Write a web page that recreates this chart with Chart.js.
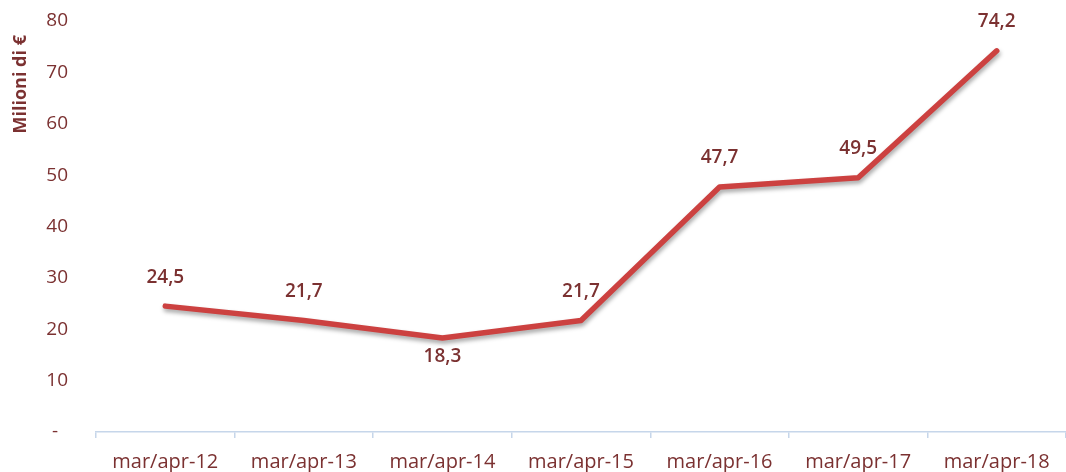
<!DOCTYPE html>
<html><head><meta charset="utf-8">
<script src="https://cdn.jsdelivr.net/npm/chart.js@4/dist/chart.umd.min.js"></script>
<style>html,body{margin:0;padding:0;background:#fff;}#wrap{width:1066px;height:472px;}</style>
</head><body><div id="wrap"><canvas id="c" width="1066" height="472"></canvas></div>
<script>
const categories = ["mar/apr-12","mar/apr-13","mar/apr-14","mar/apr-15","mar/apr-16","mar/apr-17","mar/apr-18"];
const values = [24.5, 21.7, 18.3, 21.7, 47.7, 49.5, 74.2];
const labelBelow = [false, false, true, false, false, false, false];
const yTicks = [0,10,20,30,40,50,60,70,80];
const txt = '#7b3131';

const shadowPlugin = {
  id:'shadow',
  beforeDatasetDraw(chart){ const c=chart.ctx; c.save(); c.shadowColor='rgba(0,0,0,0.35)'; c.shadowBlur=4; c.shadowOffsetX=1; c.shadowOffsetY=3; },
  afterDatasetDraw(chart){ chart.ctx.restore(); }
};
const labelPlugin = {
  id:'vals',
  afterDatasetsDraw(chart){
    const c=chart.ctx; const meta=chart.getDatasetMeta(0);
    c.save(); c.font='600 19px "Open Sans"'; c.fillStyle=txt; c.textAlign='center'; c.textBaseline='middle';
    meta.data.forEach((p,i)=>{
      const y = labelBelow[i] ? p.y+19 : p.y-29;
      c.fillText(values[i].toFixed(1).replace('.',','), p.x, y);
    });
    c.restore();
  }
};
new Chart(document.getElementById('c'),{
  type:'line',
  data:{labels:categories,datasets:[{data:values,borderColor:'#cc4140',borderWidth:5.5,borderCapStyle:'round',borderJoinStyle:'round',pointRadius:0,tension:0,fill:false}]},
  options:{
    responsive:false,animation:false,
    layout:{padding:{top:21,right:0,left:0,bottom:0}},
    plugins:{legend:{display:false},tooltip:{enabled:false}},
    scales:{
      x:{offset:true,
        grid:{offset:true,drawOnChartArea:false,drawTicks:true,tickLength:6,color:'#c6d6ea',lineWidth:1.5},
        border:{color:'#c6d6ea',width:1.5},
        ticks:{color:txt,font:{family:'"Open Sans"',size:20,weight:'500'},padding:12,maxRotation:0},
        afterFit(s){s.height=40;}
      },
      y:{min:0,max:80,
        grid:{display:false,drawTicks:false},border:{display:false},
        afterBuildTicks(s){s.ticks=yTicks.map(v=>({value:v}));},
        ticks:{color:txt,font:{family:'"Open Sans"',size:19,weight:'500'},padding:28,callback:v=>v===0?'-  ':String(v)},
        title:{display:true,text:'Milioni di €   ',align:'end',color:txt,font:{family:'"Open Sans"',size:18,weight:'bold'},padding:{top:10,bottom:0}},
        afterFit(s){s.width=96; s.paddingTop=0; s.paddingBottom=0;}
      }
    }
  },
  plugins:[shadowPlugin,labelPlugin]
});
</script></body></html>
